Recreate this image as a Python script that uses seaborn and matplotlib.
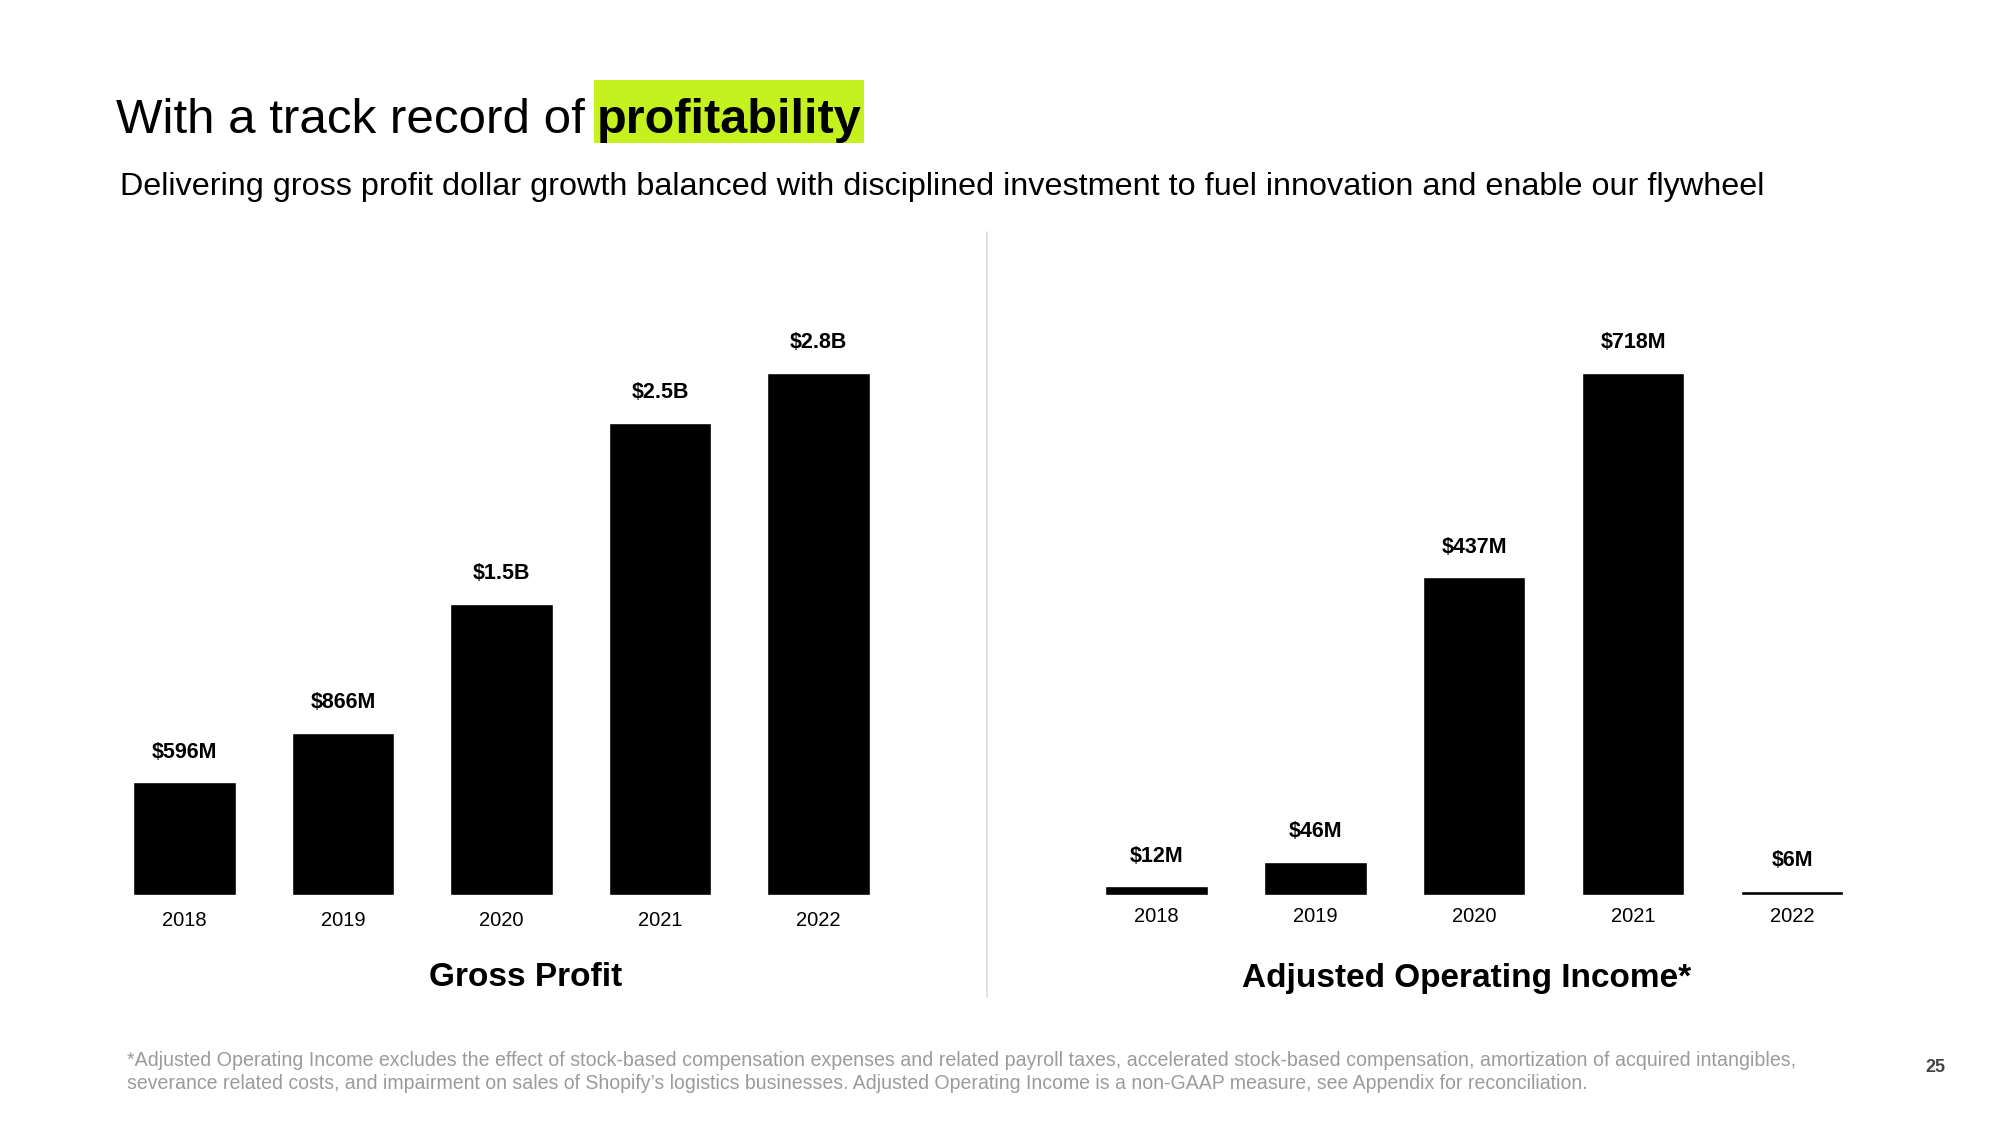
import pandas as pd
import matplotlib.pyplot as plt
import seaborn as sns
from matplotlib.patches import Rectangle

# data
years = ["2018", "2019", "2020", "2021", "2022"]
gross_profit = [0.605, 0.87, 1.56, 2.53, 2.8]          # $B (bar heights)
gp_labels = ["$596M", "$866M", "$1.5B", "$2.5B", "$2.8B"]
adj_op_income = [12, 46, 437, 718, 6]                  # $M
aoi_labels = ["$12M", "$46M", "$437M", "$718M", "$6M"]

sns.set_theme(style="white")
plt.rcParams['font.family'] = ['Liberation Sans', 'DejaVu Sans']
plt.rcParams['text.color'] = 'black'
plt.rcParams['xtick.color'] = 'black'

fig = plt.figure(figsize=(20, 11.25), dpi=100)
W, H = 2000, 1125
renderer = fig.canvas.get_renderer()


def fx(px):
    return px / W


def fy(py):
    return 1 - py / H


def fit(t, width_px):
    # shrink/grow a text so it spans the same width as on the slide
    w = t.get_window_extent(renderer).width
    t.set_fontsize(t.get_fontsize() * width_px / w)
    return t


lime = "#C5F21E"

# title + highlighted word
fit(fig.text(fx(116), fy(133), "With a track record of", fontsize=40,
             va="baseline", ha="left", color="black"), 468)
fig.patches.append(Rectangle((fx(594), fy(143)), fx(863.5 - 594), (143 - 80) / H,
                             transform=fig.transFigure, facecolor=lime,
                             edgecolor="none", zorder=0))
fit(fig.text(fx(729.5), fy(133), "profitability", fontsize=40, fontweight="bold",
             va="baseline", ha="center", color="black"), 264)
fit(fig.text(fx(120), fy(195), "Delivering gross profit dollar growth balanced with "
             "disciplined investment to fuel innovation and enable our flywheel",
             fontsize=22, va="baseline", ha="left", color="black"), 1635)

# divider
fig.add_artist(plt.Line2D([fx(987), fx(987)], [fy(232), fy(997)],
                          transform=fig.transFigure, color="#dcdcdc", lw=1.2))


def draw(ax, vals, labels, ymax, pad):
    df = pd.DataFrame({"year": years, "value": vals})
    sns.barplot(data=df, x="year", y="value", color="black", width=0.645,
                saturation=1, ax=ax)
    ax.set_xlim(-0.5, 4.5)
    ax.set_ylim(0, ymax)
    ax.bar_label(ax.containers[0], labels=labels, padding=14, fontsize=15.5,
                 fontweight="bold", color="black", clip_on=False)
    ax.set_xlabel("")
    ax.set_ylabel("")
    ax.set_yticks([])
    ax.tick_params(axis="x", length=0, pad=pad, labelsize=14.5, labelcolor="black")
    sns.despine(ax=ax, left=True, bottom=True)
    ax.patch.set_alpha(0)


ax1 = fig.add_axes([fx(105.25), fy(895), fx(792.5), (895 - 372.5) / H])
draw(ax1, gross_profit, gp_labels, 2.8, 11.5)
ax2 = fig.add_axes([fx(1077), fy(895), fx(794.5), (895 - 372.5) / H])
draw(ax2, adj_op_income, aoi_labels, 718, 9)

fig.text(fx(525.5), fy(978), "Gross Profit", fontsize=24, fontweight="bold",
         ha="center", va="center", color="black")
fig.text(fx(1467), fy(978), "Adjusted Operating Income*", fontsize=24,
         fontweight="bold", ha="center", va="center", color="black")

# footnote
fit(fig.text(fx(127), fy(1066), "*Adjusted Operating Income excludes the effect of "
             "stock-based compensation expenses and related payroll taxes, accelerated "
             "stock-based compensation, amortization of acquired intangibles,",
             fontsize=12.5, color="#9b9b9b", va="baseline", ha="left"), 1663)
fit(fig.text(fx(127), fy(1089), "severance related costs, and impairment on sales of "
             "Shopify’s logistics businesses. Adjusted Operating Income is a non-GAAP "
             "measure, see Appendix for reconciliation.",
             fontsize=12.5, color="#9b9b9b", va="baseline", ha="left"), 1462)
fig.text(fx(1935), fy(1068), "25", fontsize=13, fontweight="bold",
         color="#444444", ha="center", va="center")

fig.savefig("out.png", dpi=100, facecolor="white")
